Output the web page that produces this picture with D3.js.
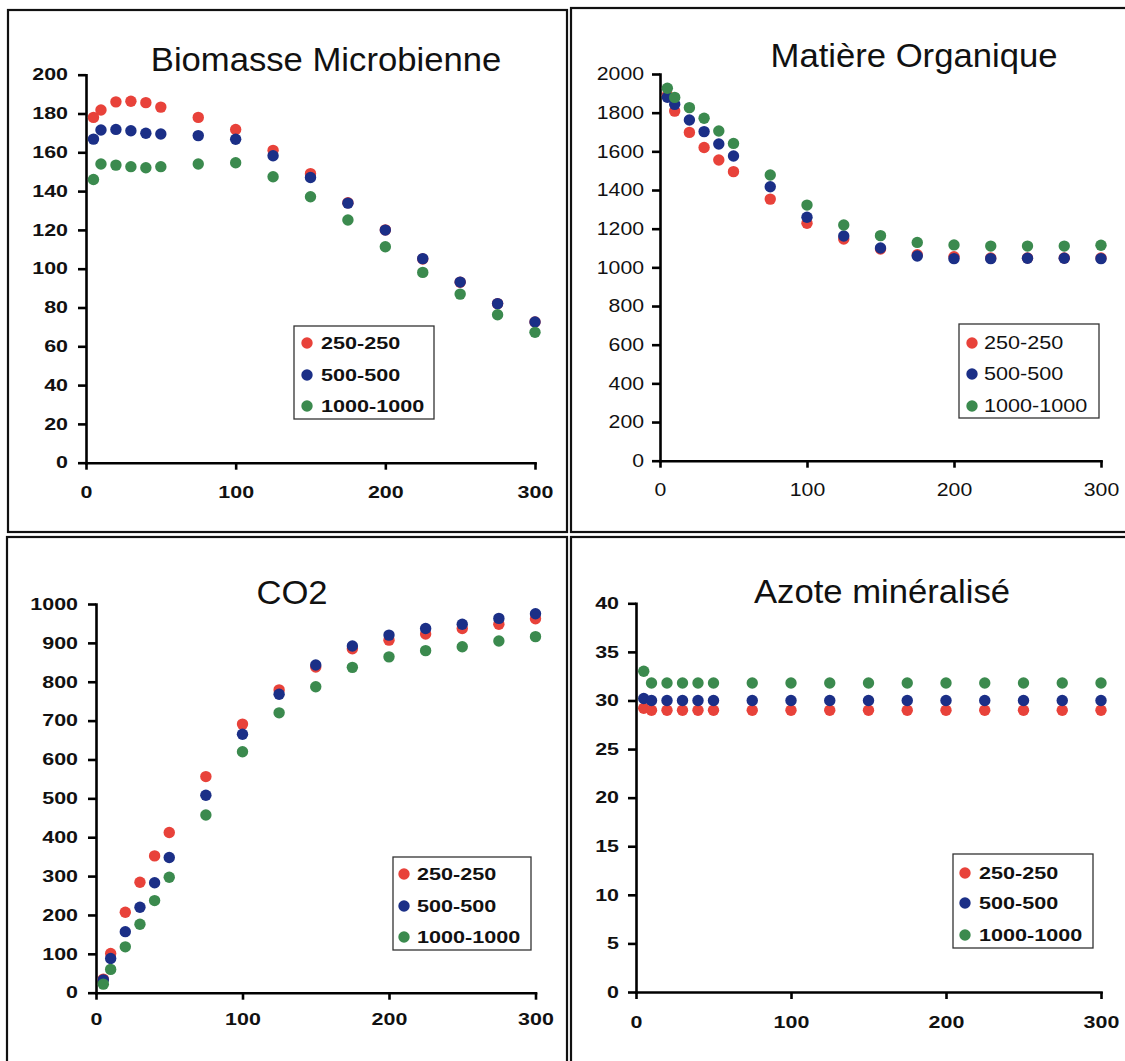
<!DOCTYPE html>
<html>
<head>
<meta charset="utf-8">
<script src="https://cdn.jsdelivr.net/npm/d3@7"></script>
<style>
body { margin: 0; background: #fff; }
svg { display: block; }
text { font-family: "Liberation Sans", Arial, sans-serif; fill: #111; }
</style>
</head>
<body>
<svg id="fig" width="1125" height="1061"></svg>
<script>
// days of incubation, shared by every panel
var days = [5, 10, 20, 30, 40, 50, 75, 100, 125, 150, 175, 200, 225, 250, 275, 300];
var seriesNames = ["250-250", "500-500", "1000-1000"];
var xTicks = [0, 100, 200, 300];

// Biomasse Microbienne
var bio250 = [178, 181.8, 186, 186.3, 185.6, 183.3, 178, 171.8, 161, 149, 134, 120, 105, 93, 82, 72.5];
var bio500 = [166.8, 171.5, 171.8, 171.1, 169.8, 169.4, 168.6, 166.7, 158.2, 147, 133.8, 119.9, 105.2, 93.1, 82, 72.5];
var bio1000 = [146, 154, 153.4, 152.6, 152, 152.6, 154, 154.6, 147.4, 137.1, 125.1, 111.3, 98.1, 86.9, 76.3, 67.2];
var bioTicks = [0, 20, 40, 60, 80, 100, 120, 140, 160, 180, 200];

// Matière Organique
var mo250 = [1890, 1808, 1698, 1620, 1555, 1495, 1353, 1228, 1147, 1095, 1065, 1055, 1048, 1048, 1048, 1048];
var mo500 = [1880, 1843, 1762, 1702, 1638, 1576, 1417, 1259, 1162, 1100, 1059, 1045, 1045, 1047, 1047, 1045];
var mo1000 = [1926, 1879, 1826, 1771, 1705, 1641, 1478, 1322, 1219, 1164, 1129, 1116, 1110, 1110, 1110, 1114];
var moTicks = [0, 200, 400, 600, 800, 1000, 1200, 1400, 1600, 1800, 2000];

// CO2
var co250 = [35, 101, 207, 284, 352, 412, 556, 691, 779, 838, 885, 907, 923, 937, 948, 962];
var co500 = [33, 88, 157, 220, 283, 348, 508, 665, 768, 843, 892, 920, 937, 948, 963, 975];
var co1000 = [22, 60, 118, 176, 237, 297, 457, 620, 720, 787, 837, 864, 880, 890, 905, 916];
var coTicks = [0, 100, 200, 300, 400, 500, 600, 700, 800, 900, 1000];

// Azote minéralisé
var az250 = [29.2, 29, 29, 29, 29, 29, 29, 29, 29, 29, 29, 29, 29, 29, 29, 29];
var az500 = [30.2, 30, 30, 30, 30, 30, 30, 30, 30, 30, 30, 30, 30, 30, 30, 30];
var az1000 = [33, 31.8, 31.8, 31.8, 31.8, 31.8, 31.8, 31.8, 31.8, 31.8, 31.8, 31.8, 31.8, 31.8, 31.8, 31.8];
var azTicks = [0, 5, 10, 15, 20, 25, 30, 35, 40];

var colors = ["#e8423a", "#1b2f87", "#3b8a4e"];

var panels = [
    { title: "Biomasse Microbienne", series: [bio250, bio500, bio1000], ticks: bioTicks,
      x0: 86, x1: 535, yTop: 74.7, yBot: 462.7, titleX: 326, titleY: 71,
      yGap: 18, xGap: 24, bold: true,
      legend: { x: 294, y: 326, w: 140, h: 93, rows: [343, 375, 406], mx: 13, tx: 27 } },
    { title: "Matière Organique", series: [mo250, mo500, mo1000], ticks: moTicks,
      x0: 660, x1: 1101, yTop: 74, yBot: 460.7, titleX: 914, titleY: 67,
      yGap: 16, xGap: 23, bold: false,
      legend: { x: 959, y: 324, w: 140, h: 94, rows: [343, 374, 406], mx: 13, tx: 25 } },
    { title: "CO2", series: [co250, co500, co1000], ticks: coTicks,
      x0: 96, x1: 535.5, yTop: 604, yBot: 992.7, titleX: 292, titleY: 604,
      yGap: 18, xGap: 21, bold: true,
      legend: { x: 393, y: 857, w: 138, h: 93, rows: [874, 906, 937], mx: 11, tx: 24 } },
    { title: "Azote minéralisé", series: [az250, az500, az1000], ticks: azTicks,
      x0: 636, x1: 1101, yTop: 603.3, yBot: 992, titleX: 882, titleY: 603,
      yGap: 17, xGap: 24, bold: true,
      legend: { x: 953, y: 854, w: 140, h: 94, rows: [873, 903, 935], mx: 12, tx: 26 } }
];

var svg = d3.select("#fig");

// panel frames (scanned figure: four boxed charts)
var frames = [[8, 10, 567, 532], [571, 8, 1130, 532], [7, 537, 567, 1070], [571, 537, 1130, 1070]];
svg.append("g").selectAll("rect").data(frames).enter().append("rect")
    .attr("x", function (d) { return d[0]; }).attr("y", function (d) { return d[1]; })
    .attr("width", function (d) { return d[2] - d[0]; }).attr("height", function (d) { return d[3] - d[1]; })
    .attr("fill", "none").attr("stroke", "#111").attr("stroke-width", 2.2);

var dotR = 5.7;

panels.forEach(function (p) {
    var x = d3.scaleLinear().domain([0, 300]).range([p.x0, p.x1]);
    var y = d3.scaleLinear().domain([0, p.ticks[p.ticks.length - 1]]).range([p.yBot, p.yTop]);
    var fmt = d3.format("d");
    var sx = p.bold ? 1.3 : 1.18;           // scanned labels are wider than the font
    var fs = p.bold ? "16.5px" : "18px";

    var gx = svg.append("g").attr("transform", "translate(0," + p.yBot + ")")
        .call(d3.axisBottom(x).tickValues(xTicks).tickFormat(fmt).tickSize(7).tickSizeOuter(0).tickPadding(p.xGap - 7));
    var gy = svg.append("g").attr("transform", "translate(" + p.x0 + ",0)")
        .call(d3.axisLeft(y).tickValues(p.ticks).tickFormat(fmt).tickSize(8).tickSizeOuter(0).tickPadding(p.yGap - 8));

    [gx, gy].forEach(function (g) {
        g.attr("font-size", null).attr("font-family", null);
        g.selectAll("path, line").attr("stroke", "#000").attr("stroke-width", 2.6);
        g.select(".domain").attr("stroke-linecap", "square");
        g.selectAll("text").style("font-size", fs).style("font-weight", p.bold ? "bold" : "normal")
            .attr("fill", "#111").attr("transform", "scale(" + sx + ",1)");
    });
    gy.selectAll("text").attr("x", -p.yGap / sx);

    // title
    svg.append("text")
        .attr("transform", "translate(" + p.titleX + "," + p.titleY + ") scale(1.05,1)")
        .attr("text-anchor", "middle")
        .style("font-size", "33px")
        .text(p.title);

    // points, drawn in series order so later series sit on top
    p.series.forEach(function (vals, i) {
        svg.append("g").selectAll("circle")
            .data(days.map(function (d, j) { return { day: d, v: vals[j] }; }))
            .enter().append("circle")
            .attr("cx", function (d) { return x(d.day); })
            .attr("cy", function (d) { return y(d.v); })
            .attr("r", dotR)
            .attr("fill", colors[i]);
    });

    // legend
    var L = p.legend;
    var lg = svg.append("g").attr("transform", "translate(" + L.x + "," + L.y + ")");
    lg.append("rect").attr("width", L.w).attr("height", L.h)
        .attr("fill", "#fff").attr("stroke", "#333").attr("stroke-width", 1.3);
    seriesNames.forEach(function (n, i) {
        var ry = L.rows[i] - L.y;
        lg.append("circle").attr("cx", L.mx).attr("cy", ry).attr("r", dotR).attr("fill", colors[i]);
        lg.append("text")
            .attr("transform", "translate(" + L.tx + "," + ry + ") scale(" + (p.bold ? 1.27 : 1.2) + ",1)")
            .attr("dy", "0.36em")
            .style("font-size", p.bold ? "17px" : "18px")
            .style("font-weight", p.bold ? "bold" : "normal")
            .text(n);
    });
});
</script>
</body>
</html>
